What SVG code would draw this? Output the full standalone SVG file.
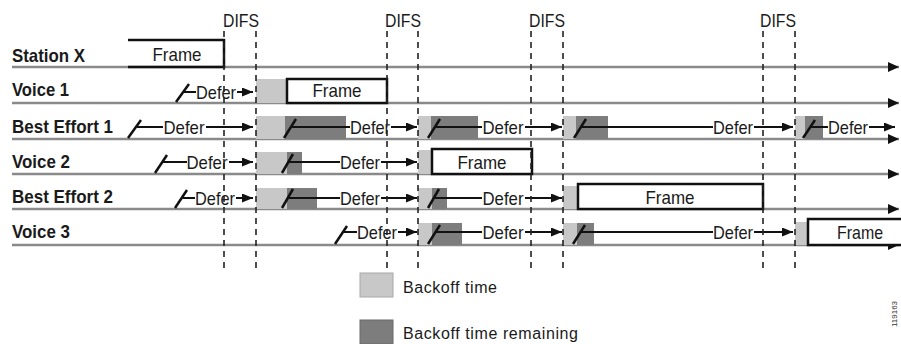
<svg xmlns="http://www.w3.org/2000/svg" width="901" height="344" viewBox="0 0 901 344">
<defs>
<marker id="ah" markerUnits="userSpaceOnUse" markerWidth="11" markerHeight="9" refX="11" refY="4.5" orient="auto"><path d="M0,0 L11,4.5 L0,9 z" fill="#111"/></marker>
<marker id="bh" markerUnits="userSpaceOnUse" markerWidth="11" markerHeight="10" refX="11" refY="5" orient="auto"><path d="M0,0 L11,5 L0,10 z" fill="#111"/></marker>
</defs>
<style>
.lbl{font-family:"Liberation Sans",Arial,sans-serif;font-weight:bold;font-size:19px;fill:#1a1a1a}
.t{font-family:"Liberation Sans",Arial,sans-serif;font-size:19px;fill:#1a1a1a;text-anchor:middle}
.difs{font-family:"Liberation Sans",Arial,sans-serif;font-size:18.5px;fill:#1a1a1a;text-anchor:middle}
.leg{font-family:"Liberation Sans",Arial,sans-serif;font-size:16px;fill:#1a1a1a}
.base{stroke:#8a8a8a;stroke-width:2.5;fill:none}
.frame{stroke:#111;stroke-width:2.5;fill:#fff}
.lt{fill:#c8c8c8}
.dk{fill:#7d7d7d}
.sl{stroke:#111;stroke-width:2.5;fill:none}
.ln{stroke:#111;stroke-width:2;fill:none}
.ar{stroke:#111;stroke-width:2;fill:none;marker-end:url(#ah)}
.dash{stroke:#222;stroke-width:1.6;stroke-dasharray:6 5;fill:none}
</style>

<g id="baselines">
<line class="base" x1="12" y1="67" x2="899" y2="67" marker-end="url(#bh)"/>
<line class="base" x1="12" y1="103" x2="899" y2="103" marker-end="url(#bh)"/>
<line class="base" x1="12" y1="139" x2="899" y2="139" marker-end="url(#bh)"/>
<line class="base" x1="12" y1="174" x2="899" y2="174" marker-end="url(#bh)"/>
<line class="base" x1="12" y1="209" x2="899" y2="209" marker-end="url(#bh)"/>
<line class="base" x1="12" y1="245" x2="899" y2="245" marker-end="url(#bh)"/>
</g>

<g id="station-x">
<text class="lbl" x="12" y="62" textLength="73" lengthAdjust="spacingAndGlyphs">Station X</text>
<path d="M128,40 H224 V67 H128" stroke="#111" stroke-width="2.5" fill="none"/>
<text class="t" x="177" y="61" textLength="49" lengthAdjust="spacingAndGlyphs">Frame</text>
</g>

<g id="voice-1">
<text class="lbl" x="12" y="96" textLength="57" lengthAdjust="spacingAndGlyphs">Voice 1</text>
<rect class="lt" x="256" y="79" width="31" height="24"/>
<rect class="frame" x="287" y="79" width="100" height="24"/>
<text class="t" x="337" y="97" textLength="49" lengthAdjust="spacingAndGlyphs">Frame</text>
<text class="t" x="216" y="98.5" textLength="40" lengthAdjust="spacingAndGlyphs">Defer</text>
</g>

<g id="best-effort-1">
<text class="lbl" x="12" y="133" textLength="101" lengthAdjust="spacingAndGlyphs">Best Effort 1</text>
<rect class="lt" x="256" y="116" width="29" height="23"/>
<rect class="dk" x="285" y="116" width="61" height="23"/>
<rect class="lt" x="418" y="116" width="13" height="23"/>
<rect class="dk" x="431" y="116" width="47" height="23"/>
<rect class="lt" x="563" y="116" width="13" height="23"/>
<rect class="dk" x="576" y="116" width="32" height="23"/>
<rect class="lt" x="795" y="116" width="10" height="23"/>
<rect class="dk" x="805" y="116" width="18" height="23"/>
<text class="t" x="184" y="133.5" textLength="41" lengthAdjust="spacingAndGlyphs">Defer</text>
<text class="t" x="370" y="133.5" textLength="40" lengthAdjust="spacingAndGlyphs">Defer</text>
<text class="t" x="503" y="133.5" textLength="41" lengthAdjust="spacingAndGlyphs">Defer</text>
<text class="t" x="733" y="133.5" textLength="40" lengthAdjust="spacingAndGlyphs">Defer</text>
<text class="t" x="848" y="133.5" textLength="40" lengthAdjust="spacingAndGlyphs">Defer</text>
</g>

<g id="voice-2">
<text class="lbl" x="12" y="168" textLength="58" lengthAdjust="spacingAndGlyphs">Voice 2</text>
<rect class="lt" x="256" y="152" width="31" height="22"/>
<rect class="dk" x="287" y="152" width="15" height="22"/>
<rect class="lt" x="418" y="150" width="14" height="24"/>
<rect class="frame" x="432" y="149" width="100" height="25"/>
<text class="t" x="482" y="168.5" textLength="49" lengthAdjust="spacingAndGlyphs">Frame</text>
<text class="t" x="207" y="168.5" textLength="41" lengthAdjust="spacingAndGlyphs">Defer</text>
<text class="t" x="360" y="168.5" textLength="40" lengthAdjust="spacingAndGlyphs">Defer</text>
</g>

<g id="best-effort-2">
<text class="lbl" x="12" y="203" textLength="101" lengthAdjust="spacingAndGlyphs">Best Effort 2</text>
<rect class="lt" x="256" y="188" width="31" height="21"/>
<rect class="dk" x="287" y="188" width="30" height="21"/>
<rect class="lt" x="418" y="188" width="14" height="21"/>
<rect class="dk" x="432" y="188" width="15" height="21"/>
<rect class="lt" x="563" y="186" width="15" height="23"/>
<rect class="frame" x="578" y="184" width="185" height="25"/>
<text class="t" x="670" y="203.5" textLength="49" lengthAdjust="spacingAndGlyphs">Frame</text>
<text class="t" x="215" y="204.5" textLength="40" lengthAdjust="spacingAndGlyphs">Defer</text>
<text class="t" x="360" y="204.5" textLength="40" lengthAdjust="spacingAndGlyphs">Defer</text>
<text class="t" x="503" y="204.5" textLength="41" lengthAdjust="spacingAndGlyphs">Defer</text>
</g>

<g id="voice-3">
<text class="lbl" x="12" y="238" textLength="58" lengthAdjust="spacingAndGlyphs">Voice 3</text>
<rect class="lt" x="418" y="223" width="14" height="22"/>
<rect class="dk" x="432" y="223" width="30" height="22"/>
<rect class="lt" x="563" y="223" width="14" height="22"/>
<rect class="dk" x="577" y="223" width="17" height="22"/>
<rect class="lt" x="795" y="222" width="13" height="23"/>
<rect class="frame" x="808" y="219" width="100" height="26"/>
<text class="t" x="860" y="238.5" textLength="46" lengthAdjust="spacingAndGlyphs">Frame</text>
<text class="t" x="377" y="238.5" textLength="40" lengthAdjust="spacingAndGlyphs">Defer</text>
<text class="t" x="503" y="238.5" textLength="41" lengthAdjust="spacingAndGlyphs">Defer</text>
<text class="t" x="733" y="238.5" textLength="40" lengthAdjust="spacingAndGlyphs">Defer</text>
</g>

<g id="connectors">
<path class="sl" d="M176,102 L189,84"/>
<path class="ln" d="M184,92 H196"/>
<path class="ar" d="M237,92 H253"/>
<path class="sl" d="M128,138 L141,120"/>
<path class="ln" d="M137,127 H163"/>
<path class="ar" d="M206,127 H253"/>
<path class="sl" d="M284,138 L296,119"/>
<path class="ln" d="M292,127 H350"/>
<path class="ar" d="M391,127 H417"/>
<path class="sl" d="M428,138 L440,119"/>
<path class="ln" d="M436,127 H482"/>
<path class="ar" d="M525,127 H562"/>
<path class="sl" d="M574,138 L586,119"/>
<path class="ln" d="M582,127 H713"/>
<path class="ar" d="M754,127 H793"/>
<path class="sl" d="M803,138 L815,120"/>
<path class="ln" d="M811,127 H828"/>
<path class="ar" d="M869,127 H895"/>
<path class="sl" d="M155,173 L167,155"/>
<path class="ln" d="M163,162 H187"/>
<path class="ar" d="M229,162 H253"/>
<path class="sl" d="M282,173 L293,154"/>
<path class="ln" d="M289,162 H340"/>
<path class="ar" d="M381,162 H417"/>
<path class="sl" d="M175,208 L187,190"/>
<path class="ln" d="M183,198 H195"/>
<path class="ar" d="M236,198 H253"/>
<path class="sl" d="M282,208 L293,189"/>
<path class="ln" d="M289,198 H340"/>
<path class="ar" d="M381,198 H417"/>
<path class="sl" d="M428,208 L439,189"/>
<path class="ln" d="M435,198 H482"/>
<path class="ar" d="M525,198 H562"/>
<path class="sl" d="M335,244 L347,226"/>
<path class="ln" d="M343,232 H357"/>
<path class="ar" d="M398,232 H417"/>
<path class="sl" d="M428,244 L440,225"/>
<path class="ln" d="M436,232 H482"/>
<path class="ar" d="M525,232 H562"/>
<path class="sl" d="M573,244 L585,225"/>
<path class="ln" d="M581,232 H713"/>
<path class="ar" d="M754,232 H793"/>
</g>

<g id="difs">
<text class="difs" x="241" y="27" textLength="36" lengthAdjust="spacingAndGlyphs">DIFS</text>
<text class="difs" x="403" y="27" textLength="36" lengthAdjust="spacingAndGlyphs">DIFS</text>
<text class="difs" x="547" y="27" textLength="36" lengthAdjust="spacingAndGlyphs">DIFS</text>
<text class="difs" x="778" y="27" textLength="36" lengthAdjust="spacingAndGlyphs">DIFS</text>
<line class="dash" x1="224" y1="31" x2="224" y2="270"/>
<line class="dash" x1="256" y1="31" x2="256" y2="270"/>
<line class="dash" x1="387" y1="31" x2="387" y2="270"/>
<line class="dash" x1="418" y1="31" x2="418" y2="270"/>
<line class="dash" x1="531" y1="31" x2="531" y2="270"/>
<line class="dash" x1="563" y1="31" x2="563" y2="270"/>
<line class="dash" x1="763" y1="31" x2="763" y2="270"/>
<line class="dash" x1="795" y1="31" x2="795" y2="270"/>
</g>

<g id="legend">
<rect class="lt" x="360" y="273" width="33" height="24" stroke="#a8a8a8" stroke-width="1"/>
<text class="leg" x="403" y="293" textLength="94">Backoff time</text>
<rect class="dk" x="360" y="320" width="33" height="24" stroke="#6a6a6a" stroke-width="1"/>
<text class="leg" x="403" y="339" textLength="175">Backoff time remaining</text>
</g>

<text x="897" y="314" transform="rotate(-90 897 314)" font-family="Liberation Sans, Arial, sans-serif" font-size="8" fill="#333" text-anchor="middle">119163</text>
</svg>
